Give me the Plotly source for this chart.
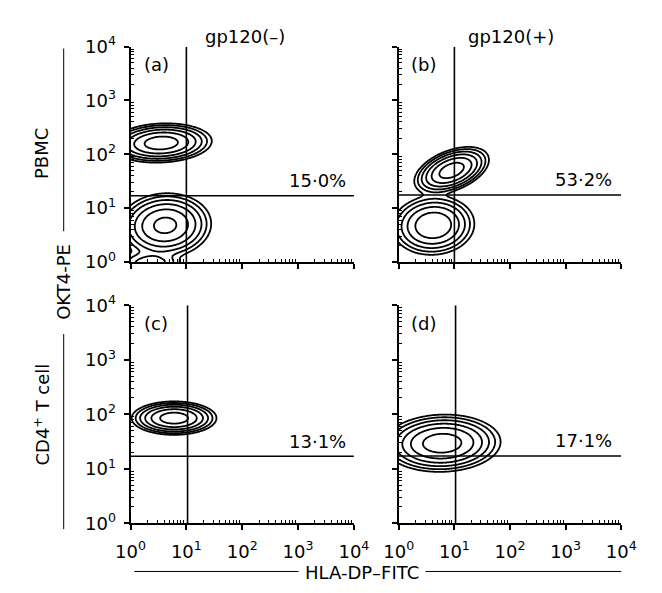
import numpy as np
import plotly.graph_objects as go

W, H = 662, 593
FONT = "DejaVu Sans"

# ---------------- data (log10 units) ----------------
panel_letters = ["(a)", "(b)", "(c)", "(d)"]
percent_labels = ["15·0%", "53·2%", "13·1%", "17·1%"]
column_titles = ["gp120(–)", "gp120(+)"]
row_titles = ["PBMC", "CD4<sup>+</sup> T cell"]
x_title = "HLA-DP–FITC"
y_title = "OKT4-PE"

# quadrant gates (fluorescence values)
gate_x = [10, 10, 10.5, 10.5]
gate_y = [17, 17.5, 17, 17.2]

# cell populations: centre (log10), spread (log10), correlation, relative peak
a_cx = [0.55, 0.62, 0.35]
a_cy = [2.21, 0.68, -0.05]
a_sx = [0.31, 0.29, 0.25]
a_sy = [0.125, 0.21, 0.12]
a_rho = [0.1, 0.05, 0.0]
a_w = [1.0, 0.8, 0.12]

b_cx = [0.95, 0.62]
b_cy = [1.70, 0.68]
b_sx = [0.23, 0.27]
b_sy = [0.15, 0.20]
b_rho = [0.45, 0.05]
b_w = [1.0, 0.6]

c_cx = [0.78]
c_cy = [1.93]
c_sx = [0.26]
c_sy = [0.105]
c_rho = [0.0]
c_w = [1.0]

d_cx = [0.78]
d_cy = [1.47]
d_sx = [0.36]
d_sy = [0.18]
d_rho = [0.05]
d_w = [1.0]

populations = [
    (a_cx, a_cy, a_sx, a_sy, a_rho, a_w),
    (b_cx, b_cy, b_sx, b_sy, b_rho, b_w),
    (c_cx, c_cy, c_sx, c_sy, c_rho, c_w),
    (d_cx, d_cy, d_sx, d_sy, d_rho, d_w),
]

major_vals = [1, 10, 100, 1000, 10000]
major_text = ["10<sup>0</sup>", "10<sup>1</sup>", "10<sup>2</sup>", "10<sup>3</sup>", "10<sup>4</sup>"]

# ---------------- layout geometry (pixels) ----------------
col_px = [(121, 355), (402, 635)]
row_px = [(35, 259), (304, 531)]


def px_x(p):
    return p / W


def px_y(p):
    return 1 - p / H


lg = np.linspace(0, 4, 241)
LX, LY = np.meshgrid(lg, lg)
minor_vals = [k * 10 ** e for e in range(4) for k in range(2, 10)]

fig = go.Figure()
axis_layout = {}
TXT = dict(family=FONT, size=18, color="black")

for i in range(4):
    r, c = divmod(i, 2)
    n = i + 1
    xa = "x" if n == 1 else f"x{n}"
    ya = "y" if n == 1 else f"y{n}"
    cx, cy, sx, sy, rho, w = populations[i]
    dens = np.zeros_like(LX)
    for k in range(len(cx)):
        dx = (LX - cx[k]) / sx[k]
        dy = (LY - cy[k]) / sy[k]
        q = (dx ** 2 - 2 * rho[k] * dx * dy + dy ** 2) / (1 - rho[k] ** 2)
        dens += w[k] * np.exp(-q / 2)
    Z = np.log10(np.maximum(dens / dens.max(), 1e-8))
    fig.add_trace(go.Contour(
        x=10 ** lg, y=10 ** lg, z=Z, xaxis=xa, yaxis=ya,
        autocontour=False,
        contours=dict(coloring="lines", start=-1.85, end=-0.2, size=0.33, showlabels=False),
        colorscale=[[0, "black"], [1, "black"]], showscale=False,
        line=dict(width=1.8), hoverinfo="skip",
    ))
    # gates
    fig.add_trace(go.Scatter(x=[1, 10000], y=[gate_y[i], gate_y[i]], mode="lines",
                             line=dict(color="black", width=1.6), xaxis=xa, yaxis=ya,
                             showlegend=False, hoverinfo="skip"))
    fig.add_trace(go.Scatter(x=[gate_x[i], gate_x[i]], y=[1, 10000], mode="lines",
                             line=dict(color="black", width=1.6), xaxis=xa, yaxis=ya,
                             showlegend=False, hoverinfo="skip"))

    common = dict(
        type="log", range=[0, 4], showgrid=False, zeroline=False,
        showline=True, linecolor="black", linewidth=2,
        ticks="outside", ticklen=5, tickwidth=1.5, tickcolor="black",
        tickmode="array", tickvals=major_vals, ticktext=major_text,
        minor=dict(tickmode="array", tickvals=minor_vals, ticks="inside",
                   ticklen=3, tickwidth=1, tickcolor="black", showgrid=False),
        tickfont=dict(family=FONT, size=18, color="black"),
    )
    x0, x1 = col_px[c]
    y0, y1 = row_px[r]
    axis_layout["xaxis" if n == 1 else f"xaxis{n}"] = dict(
        common, domain=[px_x(x0), px_x(x1)], anchor=ya, showticklabels=(r == 1),
        ticklabelstandoff=6)
    axis_layout["yaxis" if n == 1 else f"yaxis{n}"] = dict(
        common, domain=[px_y(y1), px_y(y0)], anchor=xa, showticklabels=(c == 0),
        ticklabelstandoff=4)

annotations = []
letter_pos = [(148, 54), (428, 54), (148, 323), (428, 323)]
pct_pos = [(349, 174), (627, 173), (349, 446), (627, 445)]
for i in range(4):
    annotations.append(dict(text=panel_letters[i], x=px_x(letter_pos[i][0]), y=px_y(letter_pos[i][1]),
                            xref="paper", yref="paper", showarrow=False,
                            xanchor="center", yanchor="middle", font=TXT))
    annotations.append(dict(text=percent_labels[i], x=px_x(pct_pos[i][0]), y=px_y(pct_pos[i][1]),
                            xref="paper", yref="paper", showarrow=False,
                            xanchor="right", yanchor="middle", font=TXT))

for j, xc in enumerate([241, 520]):
    annotations.append(dict(text=column_titles[j], x=px_x(xc), y=px_y(24),
                            xref="paper", yref="paper", showarrow=False,
                            xanchor="center", yanchor="middle", font=TXT))
for j, yc in enumerate([146, 418]):
    annotations.append(dict(text=row_titles[j], x=px_x(28), y=px_y(yc),
                            xref="paper", yref="paper", showarrow=False, textangle=-90,
                            xanchor="center", yanchor="middle", font=TXT))
annotations.append(dict(text=y_title, x=px_x(50), y=px_y(280), xref="paper", yref="paper",
                        showarrow=False, textangle=-90, xanchor="center", yanchor="middle",
                        font=TXT))
annotations.append(dict(text=x_title, x=px_x(363), y=px_y(582), xref="paper", yref="paper",
                        showarrow=False, xanchor="center", yanchor="middle", font=TXT))

shapes = []
for (a, b) in [(37, 227), (334, 537)]:
    shapes.append(dict(type="line", xref="paper", yref="paper",
                       x0=px_x(51), x1=px_x(51), y0=px_y(a), y1=px_y(b),
                       line=dict(color="black", width=1)))
for (a, b) in [(125, 297), (430, 635)]:
    shapes.append(dict(type="line", xref="paper", yref="paper",
                       x0=px_x(a), x1=px_x(b), y0=px_y(581), y1=px_y(581),
                       line=dict(color="black", width=1)))

fig.update_layout(
    width=W, height=H, margin=dict(l=0, r=0, t=0, b=0),
    paper_bgcolor="white", plot_bgcolor="white", showlegend=False,
    annotations=annotations, shapes=shapes, **axis_layout,
)

fig.write_html("out.html")
